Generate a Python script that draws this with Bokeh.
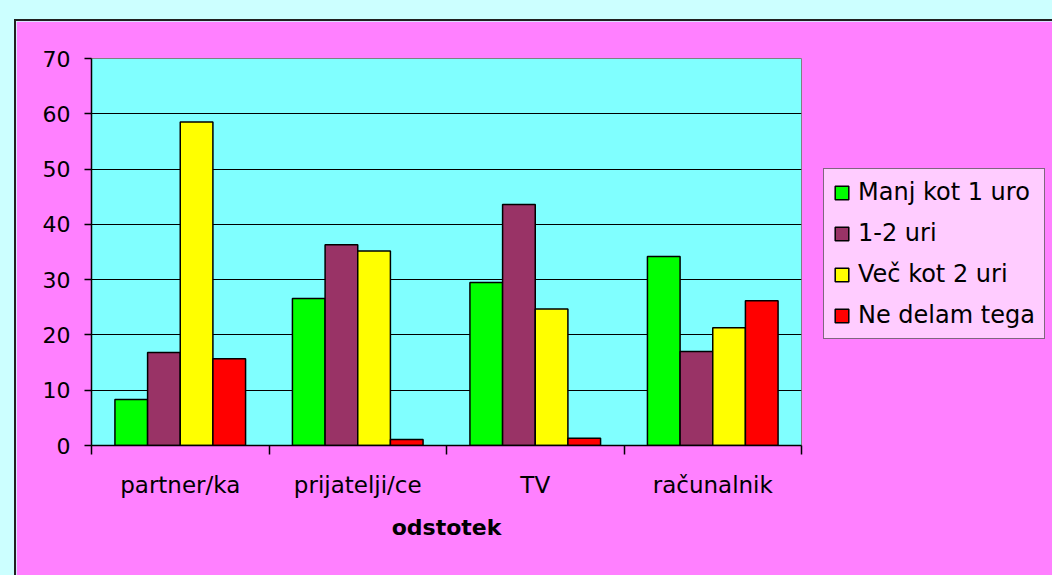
from bokeh.plotting import figure
from bokeh.models import (Range1d, LinearAxis, FixedTicker, Legend, LegendItem,
                          ColumnDataSource)
from bokeh.layouts import column
from bokeh.embed import file_html
from bokeh.resources import INLINE

categories = ["partner/ka", "prijatelji/ce", "TV", "računalnik"]
series_names = ["Manj kot 1 uro", "1-2 uri", "Več kot 2 uri", "Ne delam tega"]
manj_kot_1 = [8.3, 26.6, 29.5, 34.2]
ure_1_2 = [16.8, 36.3, 43.6, 17.0]
vec_kot_2 = [58.5, 35.2, 24.7, 21.3]
ne_delam = [15.7, 1.1, 1.3, 26.2]
y_ticks = [0, 10, 20, 30, 40, 50, 60, 70]
x_label = "odstotek"

series_values = [manj_kot_1, ure_1_2, vec_kot_2, ne_delam]
colors = ["#00ff00", "#993366", "#ffff00", "#ff0000"]

FONT = "DejaVu Sans"
bar_w = 0.184

p = figure(output_backend="svg", toolbar_location=None,
           frame_width=708, frame_height=385,
           min_border_left=75, min_border_right=253, min_border_top=37, min_border_bottom=133,
           x_range=Range1d(0, len(categories)), y_range=Range1d(0, 70),
           x_axis_location=None, tools="",
           margin=(19, 0, 0, 14))

p.background_fill_color = "#80ffff"
p.border_fill_color = "#ff80ff"
p.outline_line_color = "#808080"
p.outline_line_width = 1
p.styles = {"border-left": "2px solid #202020", "border-top": "2px solid #202020",
            "box-sizing": "border-box"}

# y axis
ya = p.yaxis[0]
ya.ticker = FixedTicker(ticks=y_ticks)
ya.axis_line_color = "black"
ya.axis_line_width = 1.5
ya.major_tick_line_color = "black"
ya.major_tick_line_width = 1.5
ya.major_tick_in = 0
ya.major_tick_out = 7
ya.minor_tick_line_color = None
ya.major_label_text_font = FONT
ya.major_label_text_font_size = "22px"
ya.major_label_text_color = "black"
ya.major_label_standoff = 14

p.ygrid.grid_line_color = "black"
p.ygrid.grid_line_width = 1.2
p.ygrid.ticker = FixedTicker(ticks=y_ticks)
p.xgrid.grid_line_color = None

# x axis: labels at category centres, ticks (minor) at category boundaries
centres = [i + 0.5 for i in range(len(categories))]
bounds = list(range(len(categories) + 1))
xa = LinearAxis(ticker=FixedTicker(ticks=centres, minor_ticks=bounds))
xa.major_label_overrides = {c: name for c, name in zip(centres, categories)}
xa.axis_line_color = "black"
xa.axis_line_width = 1.5
xa.major_tick_line_color = None
xa.major_tick_in = 0
xa.major_tick_out = 0
xa.minor_tick_line_color = "black"
xa.minor_tick_line_width = 1.5
xa.minor_tick_in = 0
xa.minor_tick_out = 9
xa.major_label_text_font = FONT
xa.major_label_text_font_size = "23px"
xa.major_label_text_color = "black"
xa.major_label_standoff = 17
xa.axis_label = x_label
xa.axis_label_text_font = FONT
xa.axis_label_text_font_size = "22px"
xa.axis_label_text_font_style = "bold"
xa.axis_label_text_color = "black"
xa.axis_label_standoff = 14
p.add_layout(xa, "below")

items = []
for j, (name, vals, col) in enumerate(zip(series_names, series_values, colors)):
    xs = [i + 0.5 + (j - 1.5) * bar_w for i in range(len(categories))]
    src = ColumnDataSource(dict(x=xs, top=vals))
    r = p.vbar(x="x", top="top", bottom=0, width=bar_w, source=src,
               fill_color=col, line_color="black", line_width=1.5)
    items.append(LegendItem(label=name, renderers=[r]))

legend = Legend(items=items, location=(22, 106))
legend.background_fill_color = "#ffccff"
legend.background_fill_alpha = 1
legend.border_line_color = "black"
legend.border_line_width = 1.5
legend.label_text_font = FONT
legend.label_text_font_size = "24px"
legend.label_text_color = "black"
legend.glyph_width = 17
legend.glyph_height = 17
legend.label_standoff = 8
legend.spacing = 13
legend.padding = 9
legend.margin = 0
p.add_layout(legend, "right")

layout = column(p, styles={"background-color": "#ccffff"})

open("out.html", "w").write(file_html(layout, INLINE))
